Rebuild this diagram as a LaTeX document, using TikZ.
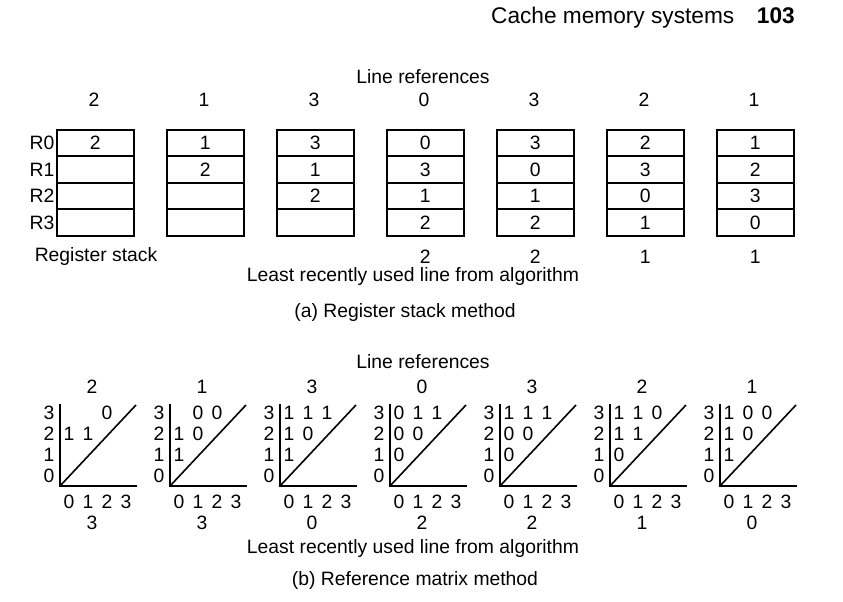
\documentclass[tikz,border=0pt]{standalone}
\usepackage{fontspec}
\setmainfont{Liberation Sans}
\begin{document}
\begin{tikzpicture}[x=0.75pt,y=-0.75pt,font=\fontsize{14.5}{16}\selectfont,
  txt/.style={inner sep=0pt,anchor=center},
  ln/.style={line width=1.2pt},
  ax/.style={line width=1.6pt},
  cell/.style={draw,line width=1.2pt,minimum width=57.75pt,minimum height=19.9pt,inner sep=0pt,anchor=north west}]
\useasboundingbox (0,0) rectangle (843,602);
\node[txt,anchor=east] (hdr) at (795,18) {\fontsize{17}{19}\selectfont Cache memory systems\quad\textbf{103}};
% (a)
\node[txt] (lra) at (423,77) {Line references};
\foreach \i/\r/\a/\b/\c/\d in {0/2/2///,1/1/1/2//,2/3/3/1/2/,3/0/0/3/1/2,4/3/3/0/1/2,5/2/2/3/0/1,6/1/1/2/3/0}{
  \pgfmathsetmacro\bx{56+110*\i}
  \node[txt] (ref\i) at (\bx+38,100) {\r};
  \node[cell] (c\i a) at (\bx,129) {\a};
  \node[cell] (c\i b) at (\bx,155.5) {\b};
  \node[cell] (c\i c) at (\bx,182) {\c};
  \node[cell] (c\i d) at (\bx,208.5) {\d};
}
\foreach \k/\r in {a/R0,b/R1,c/R2,d/R3}{\node[txt,anchor=east] (reg\k) at ([xshift=-1pt]c0\k.west) {\r};}
\node[txt] (rs) at (96,257) {Register stack};
\foreach \i/\v in {3/2,4/2,5/1,6/1}{\node[txt] (lru\i) at ([yshift=-15pt]c\i d.south) {\v};}
\node[txt] (lrua) at (413,277) {Least recently used line from algorithm};
\node[txt] (capa) at (405,313) {(a) Register stack method};
% (b)
\node[txt] (lrb) at (423,362) {Line references};
\foreach \i/\r/\b/\m in {0/2/3/{3/2/0,2/0/1,2/1/1},
                          1/1/3/{3/1/0,3/2/0,2/0/1,2/1/0,1/0/1},
                          2/3/0/{3/0/1,3/1/1,3/2/1,2/0/1,2/1/0,1/0/1},
                          3/0/2/{3/0/0,3/1/1,3/2/1,2/0/0,2/1/0,1/0/0},
                          4/3/2/{3/0/1,3/1/1,3/2/1,2/0/0,2/1/0,1/0/0},
                          5/2/1/{3/0/1,3/1/1,3/2/0,2/0/1,2/1/1,1/0/0},
                          6/1/0/{3/0/1,3/1/0,3/2/0,2/0/1,2/1/0,1/0/1}}{
  \pgfmathsetmacro\ox{60+110*\i}
  \coordinate (o\i) at (\ox,486);
  \coordinate (t\i) at (\ox,404);
  \coordinate (r\i) at (\ox+77,486);
  \coordinate (d\i) at (\ox+76,405);
  \draw[ax] (t\i) -- (o\i) -- (r\i);
  \draw[ln] (o\i) -- (d\i);
  \node[txt] (mr\i) at (\ox+32,387) {\r};
  \node[txt] (mb\i) at (\ox+32,523) {\b};
  \foreach \k in {0,1,2,3}{
    \node[txt] (col\i\k) at (\ox+9+19*\k,502) {\k};
    \node[txt] (row\i\k) at (\ox-11,476-21*\k) {\k};
  }
  \foreach \rr/\cc/\vv in \m {\node[txt] (e\i\rr\cc) at (\ox+9+19*\cc,476-21*\rr) {\vv};}
}
\node[txt] (lrub) at (413,549) {Least recently used line from algorithm};
\node[txt] (capb) at (415,580) {(b) Reference matrix method};
\end{tikzpicture}
\end{document}
